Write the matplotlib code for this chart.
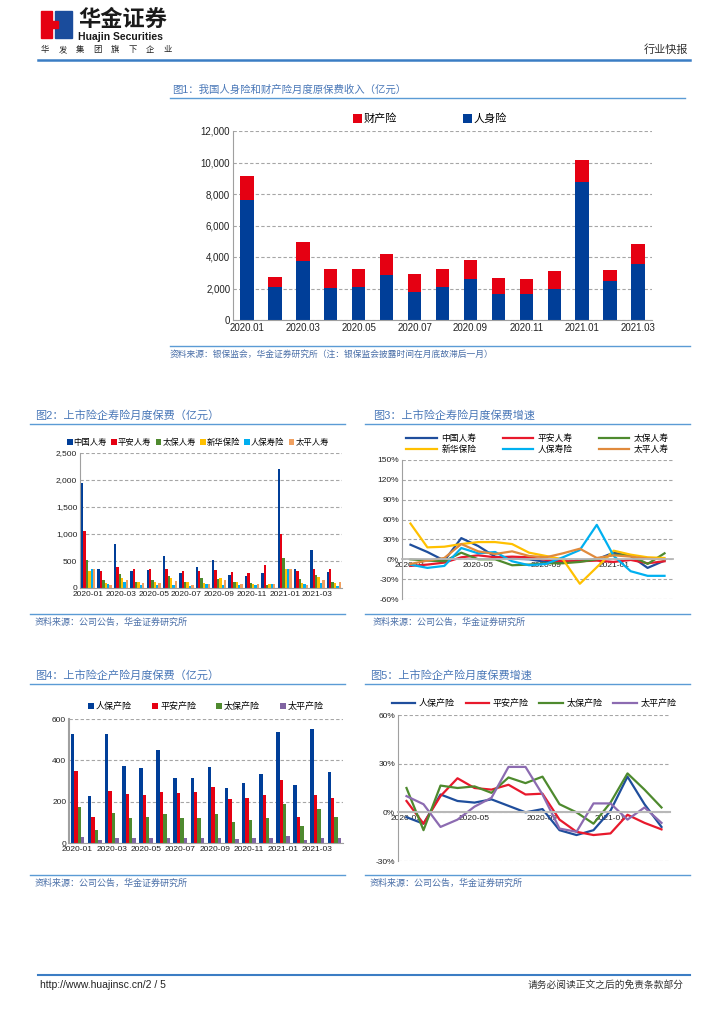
import matplotlib
matplotlib.use('Agg')
import matplotlib.pyplot as plt
import numpy as np
from matplotlib.lines import Line2D
from matplotlib.patches import Rectangle, Polygon
from matplotlib.ticker import FuncFormatter

plt.rcParams['font.family'] = ['Liberation Sans', 'Noto Sans CJK SC']
plt.rcParams['axes.unicode_minus'] = False

# ---- data ----
months1 = ['2020.01', '2020.02', '2020.03', '2020.04', '2020.05', '2020.06', '2020.07', '2020.08',
           '2020.09', '2020.10', '2020.11', '2020.12', '2021.01', '2021.02', '2021.03']
life_prem = [7650, 2080, 3720, 2030, 2100, 2830, 1800, 2120, 2620, 1680, 1620, 2000, 8750, 2450, 3580]
prop_prem = [1480, 640, 1260, 1210, 1130, 1340, 1110, 1110, 1160, 980, 990, 1120, 1400, 730, 1240]

months2 = ['2020-01', '2020-02', '2020-03', '2020-04', '2020-05', '2020-06', '2020-07', '2020-08',
           '2020-09', '2020-10', '2020-11', '2020-12', '2021-01', '2021-02', '2021-03', '2021-04']

life_names = ['中国人寿', '平安人寿', '太保人寿', '新华保险', '人保寿险', '太平人寿']
life_vals = [
    [1940, 360, 810, 310, 330, 600, 280, 390, 520, 240, 220, 280, 2200, 360, 710, 300],
    [1050, 320, 380, 360, 360, 350, 320, 320, 340, 300, 280, 420, 1000, 320, 360, 360],
    [520, 150, 260, 110, 140, 220, 110, 180, 160, 110, 90, 60, 560, 160, 240, 120],
    [310, 90, 190, 110, 110, 180, 110, 100, 180, 110, 70, 70, 350, 100, 200, 100],
    [350, 80, 120, 60, 50, 60, 40, 70, 50, 50, 50, 70, 360, 70, 90, 40],
    [350, 50, 140, 100, 90, 130, 60, 70, 140, 80, 70, 70, 360, 60, 150, 110],
]
life_growth = [
    [22, 11, -2, 32, 20, 4, 1, 0, -4, -4, -2, 0, 10, 5, -13, -2],
    [-10, -8, -5, 3, 6, 3, 4, 3, -1, -3, -3, -2, -4, -1, -6, -3],
    [0, -2, -3, 10, 0, 0, -9, -8, -6, -6, -4, 0, 7, 6, -7, 9],
    [54, 18, 19, 23, 26, 26, 23, 10, 5, 0, -37, -12, 13, 7, 3, 2],
    [-8, -13, -10, 17, 9, 11, -3, -9, -7, 3, 14, 52, 5, -18, -25, -25],
    [-7, -2, 2, 23, 12, 8, 12, 5, 3, 9, 16, 2, 6, 4, 1, 0],
]

prop_names = ['人保产险', '平安产险', '太保产险', '太平产险']
prop_vals = [
    [529, 228, 529, 374, 361, 452, 313, 313, 369, 265, 289, 334, 537, 279, 553, 342],
    [348, 127, 250, 239, 231, 245, 241, 245, 270, 212, 218, 234, 305, 125, 233, 217],
    [176, 64, 144, 122, 124, 140, 120, 120, 138, 103, 111, 120, 188, 82, 165, 125],
    [30, 15, 22, 22, 22, 26, 26, 22, 26, 20, 22, 26, 32, 14, 22, 22],
]
prop_growth = [
    [-3, -7, 11, 7, 6, 8, 4, 0, 2, -11, -14, -11, 1, 22, 5, -9],
    [7, -7, 10, 21, 15, 14, 17, 11, 11.5, -4.5, -12, -14, -13, -1.5, -6.5, -10.5],
    [15, -11, 16.5, 15, 16, 12, 21.5, 18, 22, 5, 0, -7, 6, 24, 14, 3],
    [10, 5, -9, -4.5, 3.5, 9, 28, 28, 11, -10, -12, 5.5, 5.5, -4.5, 3, -6.5],
]

# ---- colours ----
BAR_BLUE = '#003e98'
BAR_RED = '#e50012'
life_bar_colors = [BAR_BLUE, BAR_RED, '#4f8a2f', '#ffc000', '#00aeef', '#f0a060']
life_line_colors = ['#1f4e9c', '#e8192c', '#4e8a2e', '#ffc000', '#00b0f0', '#e08a3c']
prop_bar_colors = [BAR_BLUE, BAR_RED, '#4f8a2f', '#8064a2']
prop_line_colors = ['#1f4e9c', '#e8192c', '#4e8a2e', '#8c6bb1']
TITLE_C = '#4a78b8'
RULE_C = '#5b9bd5'
SRC_C = '#4a6fa8'
GRID_C = '#a6a6a6'
AXIS_C = '#a0a0a0'

W, H = 724, 1024
fig = plt.figure(figsize=(7.24, 10.24), dpi=100)


def add_ax(l, t, r, b):
    return fig.add_axes([l / W, 1 - b / H, (r - l) / W, (b - t) / H])


def txt(x, y, s, **kw):
    kw.setdefault('va', 'center')
    fig.text(x / W, 1 - y / H, s, **kw)


def hline(x0, x1, y, color=RULE_C, lw=1.0):
    fig.add_artist(Line2D([x0 / W, x1 / W], [1 - y / H, 1 - y / H], color=color, lw=lw))


def style_axes(ax, fs=6):
    for s in ['top', 'right']:
        ax.spines[s].set_visible(False)
    ax.spines['left'].set_color(AXIS_C)
    ax.spines['bottom'].set_color(AXIS_C)
    ax.tick_params(axis='both', length=0, labelsize=fs, colors='#222222', pad=2)
    ax.yaxis.grid(True, color=GRID_C, ls=(0, (3, 2)), lw=0.8)
    ax.set_axisbelow(True)


comma = FuncFormatter(lambda v, p: f'{int(v):,}')
pct = FuncFormatter(lambda v, p: f'{int(v)}%')

# ---- header ----
fig.add_artist(Rectangle((41 / W, 1 - 38 / H), 11 / W, 27 / H, color='#e50012', transform=fig.transFigure))
fig.add_artist(Rectangle((55 / W, 1 - 38 / H), 17 / W, 27 / H, color='#1a4c9c', transform=fig.transFigure))
fig.add_artist(Polygon([[52 / W, 1 - 21 / H], [58 / W, 1 - 21 / H], [58 / W, 1 - 28 / H], [52 / W, 1 - 28 / H]],
                       closed=True, color='#e50012', transform=fig.transFigure))
txt(78, 20, '华金证券', fontsize=16, fontweight='bold', color='#1a1a1a')
txt(78, 37, 'Huajin Securities', fontsize=7.5, fontweight='bold', color='#1a1a1a')
for i, ch in enumerate('华发集团旗下企业'):
    txt(41 + i * 17.5, 50, ch, fontsize=6, color='#222222')
txt(688, 50, '行业快报', fontsize=8, color='#333333', ha='right')
hline(38, 690, 60, color='#3b7dc4', lw=1.8)

# ---- chart 1 ----
txt(172, 90, '图1：我国人身险和财产险月度原保费收入（亿元）', fontsize=7.5, color=TITLE_C)
hline(170, 685, 98)
ax1 = add_ax(233, 131, 652, 320)
x1 = np.arange(len(months1))
b_prop = ax1.bar(x1, prop_prem, bottom=life_prem, width=0.48, color=BAR_RED, label='财产险')
b_life = ax1.bar(x1, life_prem, width=0.48, color=BAR_BLUE, label='人身险')
ax1.set_xlim(-0.5, len(months1) - 0.5)
ax1.set_ylim(0, 12000)
ax1.set_yticks(range(0, 12001, 2000))
ax1.yaxis.set_major_formatter(comma)
ax1.set_xticks(x1[::2])
ax1.set_xticklabels(months1[::2])
style_axes(ax1, fs=7)
ax1.legend(handles=[b_prop, b_life], ncol=2, loc='lower center', bbox_to_anchor=(0.47, 1.0),
           frameon=False, fontsize=8, handlelength=0.8, handleheight=0.8, handletextpad=0.1,
           columnspacing=6, borderaxespad=0.2)
hline(170, 690, 346)
txt(170, 354, '资料来源：银保监会，华金证券研究所（注：银保监会披露时间在月底故滞后一月）',
    fontsize=6.3, color=SRC_C, style='italic')

# ---- chart 2 ----
txt(35, 415, '图2：上市险企寿险月度保费（亿元）', fontsize=8, color=TITLE_C)
hline(30, 345, 424)
ax2 = add_ax(80, 453, 342, 588)
x2 = np.arange(len(months2))
bw = 0.145
handles2 = []
for i, (name, vals) in enumerate(zip(life_names, life_vals)):
    h = ax2.bar(x2 + (i - 2.5) * bw, vals, width=bw, color=life_bar_colors[i], label=name)
    handles2.append(h)
ax2.set_xlim(-0.5, len(months2) - 0.5)
ax2.set_ylim(0, 2500)
ax2.set_yticks(range(0, 2501, 500))
ax2.yaxis.set_major_formatter(comma)
ax2.set_xticks(x2[::2])
ax2.set_xticklabels(months2[::2])
style_axes(ax2, fs=6)
ax2.legend(handles=handles2, ncol=6, loc='lower center', bbox_to_anchor=(0.45, 1.0),
           frameon=False, fontsize=6, handlelength=0.7, handleheight=0.7, handletextpad=0.1,
           columnspacing=0.5, borderaxespad=0.3)
hline(30, 345, 614)
txt(35, 622, '资料来源：公司公告，华金证券研究所', fontsize=6.5, color=SRC_C, style='italic')

# ---- chart 3 ----
txt(373, 415, '图3：上市险企寿险月度保费增速', fontsize=8, color=TITLE_C)
hline(365, 690, 424)
ax3 = add_ax(402, 460, 673, 599)
lines3 = []
for i, (name, vals) in enumerate(zip(life_names, life_growth)):
    ln, = ax3.plot(x2, vals, color=life_line_colors[i], lw=1.6, label=name)
    lines3.append(ln)
ax3.set_xlim(-0.5, len(months2) - 0.5)
ax3.set_ylim(-60, 150)
ax3.set_yticks(range(-60, 151, 30))
ax3.yaxis.set_major_formatter(pct)
ax3.set_xticks(x2[::4])
ax3.set_xticklabels(months2[::4])
style_axes(ax3, fs=6)
ax3.spines['bottom'].set_position(('data', 0))
ax3.spines['bottom'].set_color('#b8b8b8')
ax3.spines['bottom'].set_linewidth(1.3)
order3 = [0, 3, 1, 4, 2, 5]
ax3.legend(handles=[lines3[k] for k in order3], ncol=3, loc='lower center', bbox_to_anchor=(0.5, 1.0),
           frameon=False, fontsize=6.3, handlelength=3.5, handletextpad=0.5, columnspacing=3,
           labelspacing=0.2, borderaxespad=0.3)
hline(365, 690, 614)
txt(373, 622, '资料来源：公司公告，华金证券研究所', fontsize=6.5, color=SRC_C, style='italic')

# ---- chart 4 ----
txt(35, 675, '图4：上市险企产险月度保费（亿元）', fontsize=8, color=TITLE_C)
hline(30, 345, 684)
ax4 = add_ax(69, 719, 343, 843)
bw4 = 0.2
handles4 = []
for i, (name, vals) in enumerate(zip(prop_names, prop_vals)):
    h = ax4.bar(x2 + (i - 1.5) * bw4, vals, width=bw4, color=prop_bar_colors[i], label=name)
    handles4.append(h)
ax4.set_xlim(-0.5, len(months2) - 0.5)
ax4.set_ylim(0, 600)
ax4.set_yticks(range(0, 601, 200))
ax4.set_xticks(x2[::2])
ax4.set_xticklabels(months2[::2])
style_axes(ax4, fs=6)
ax4.spines['left'].set_linewidth(1.5)
ax4.legend(handles=handles4, ncol=4, loc='lower center', bbox_to_anchor=(0.5, 1.0),
           frameon=False, fontsize=6.5, handlelength=0.7, handleheight=0.7, handletextpad=0.2,
           columnspacing=2.2, borderaxespad=0.5)
hline(30, 345, 875)
txt(35, 883, '资料来源：公司公告，华金证券研究所', fontsize=6.5, color=SRC_C, style='italic')

# ---- chart 5 ----
txt(370, 675, '图5：上市险企产险月度保费增速', fontsize=8, color=TITLE_C)
hline(365, 690, 684)
ax5 = add_ax(398, 715, 670, 861)
lines5 = []
for i, (name, vals) in enumerate(zip(prop_names, prop_growth)):
    ln, = ax5.plot(x2, vals, color=prop_line_colors[i], lw=1.6, label=name)
    lines5.append(ln)
ax5.set_xlim(-0.5, len(months2) - 0.5)
ax5.set_ylim(-30, 60)
ax5.set_yticks(range(-30, 61, 30))
ax5.yaxis.set_major_formatter(pct)
ax5.set_xticks(x2[::4])
ax5.set_xticklabels(months2[::4])
style_axes(ax5, fs=6)
ax5.spines['bottom'].set_position(('data', 0))
ax5.spines['bottom'].set_color('#b8b8b8')
ax5.spines['bottom'].set_linewidth(1.5)
ax5.legend(handles=lines5, ncol=4, loc='lower center', bbox_to_anchor=(0.5, 1.0),
           frameon=False, fontsize=6.5, handlelength=2.6, handletextpad=0.4, columnspacing=1.2,
           borderaxespad=0.4)
hline(365, 690, 875)
txt(370, 883, '资料来源：公司公告，华金证券研究所', fontsize=6.5, color=SRC_C, style='italic')

# ---- footer ----
hline(38, 690, 975, color='#3b7dc4', lw=1.5)
txt(40, 985, 'http://www.huajinsc.cn/2 / 5', fontsize=7.5, color='#222222')
txt(684, 985, '请务必阅读正文之后的免责条款部分', fontsize=7, color='#333333', ha='right')

fig.savefig('out.png', dpi=100)
